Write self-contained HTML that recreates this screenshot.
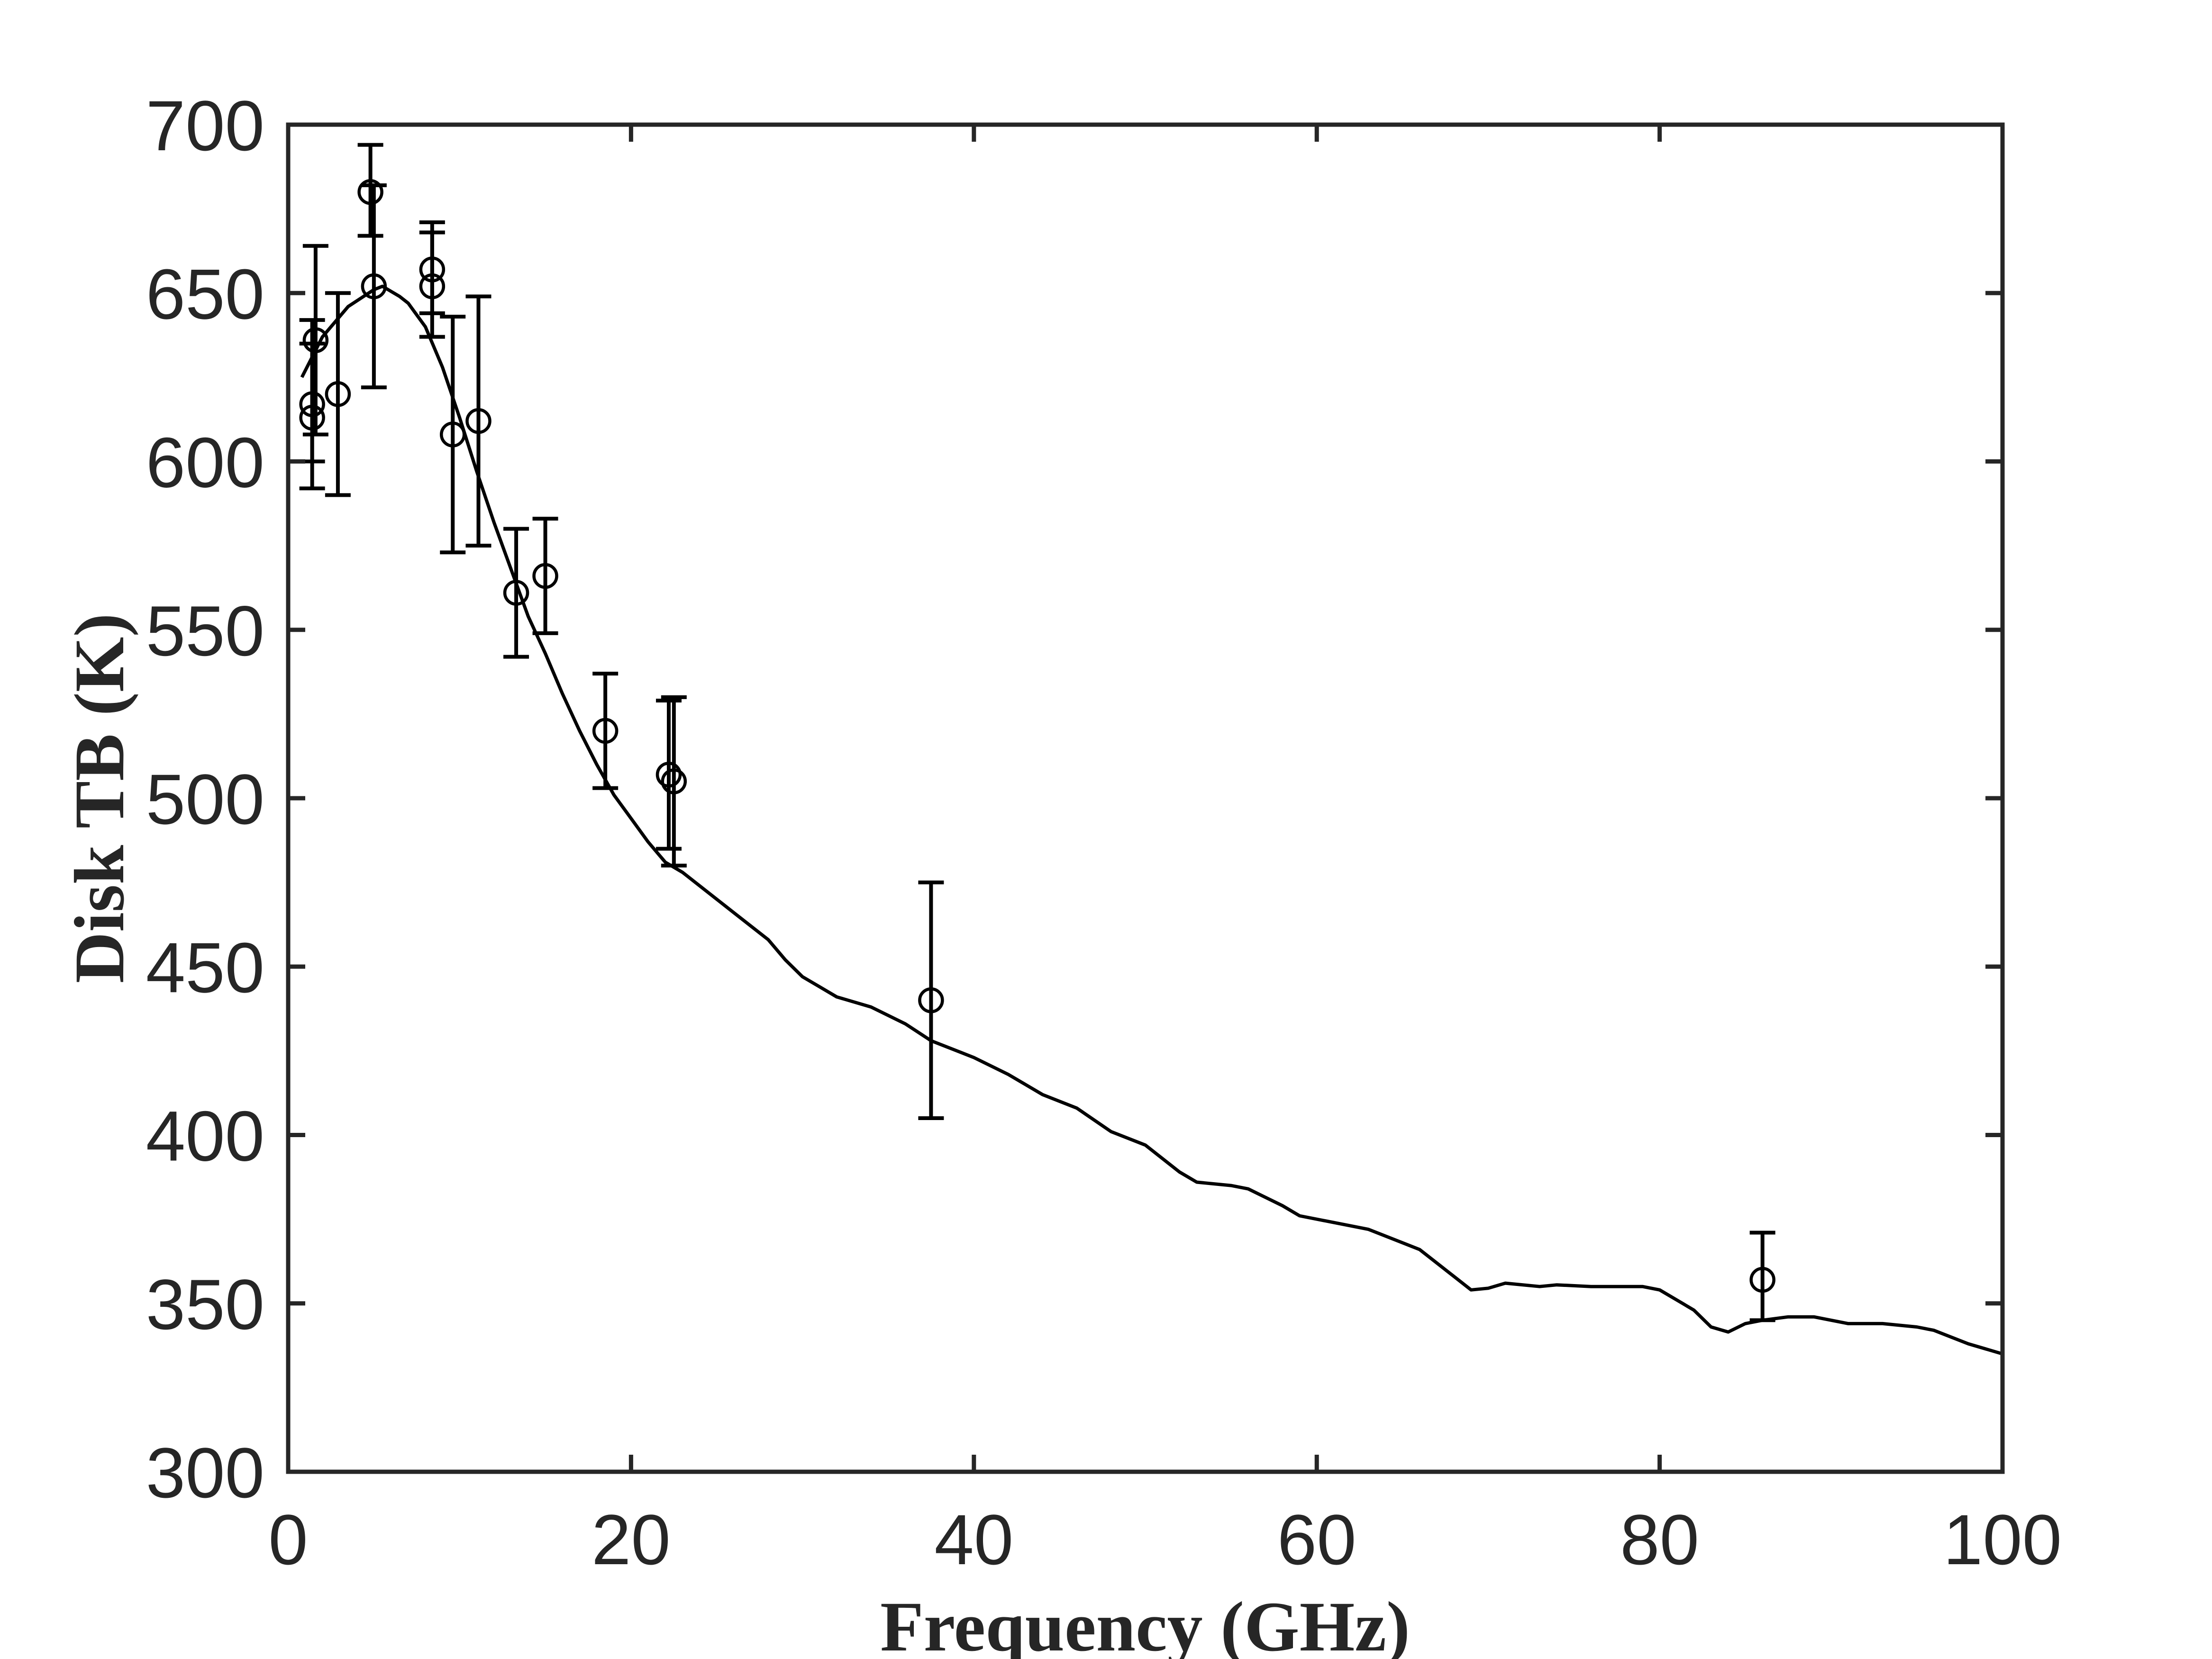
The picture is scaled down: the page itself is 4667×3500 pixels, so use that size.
<!DOCTYPE html>
<html><head><meta charset="utf-8"><style>
html,body{margin:0;padding:0;background:#fff;}
svg{display:block;}
</style></head><body>
<svg id="s" width="4667" height="3500" xmlns="http://www.w3.org/2000/svg"></svg>
<script>
var X0=608,X1=4225,Y0=263,Y1=3105;
function px(f){return X0+f*(X1-X0)/100;}
function py(t){return Y1-(t-300)*(Y1-Y0)/400;}
var s='<rect width="4667" height="3500" fill="#fff"/>';
var c=[[0.8,625],[2,637],[3.5,646],[5,651],[5.5,652],[6.5,649],[7,647],[8,640],[9,628],[10,613],[11,597],[12,582],[13,568],[14,554],[15,543],[16,531],[17,520],[18,510],[19,501],[20,494],[21,487],[22,481],[23,478],[24,474],[26,466],[28,458],[29,452],[30,447],[31,444],[32,441],[34,438],[36,433],[37.5,428],[40,423],[42,418],[43,415],[44,412],[46,408],[48,401],[50,397],[52,389],[53,386],[55,385],[56,384],[58,379],[59,376],[61,374],[63,372],[65,368],[66,366],[67,362],[68,358],[69,354],[70,354.5],[71,356],[73,355],[74,355.5],[76,355],[79,355],[80,354],[81,351],[82,348],[83,343],[84,341.5],[85,344],[86,345],[87.5,346],[89,346],[91,344],[93,344],[95,343],[96,342],[98,338],[100,335]];
s+='<polyline fill="none" stroke="#000" stroke-width="7" stroke-linejoin="round" points="'+c.map(function(p){return px(p[0]).toFixed(1)+','+py(p[1]).toFixed(1);}).join(' ')+'"/>';
var d=[[1.4,613,592,635],[1.4,617,600,642],[1.6,636,608,664],[2.9,620,590,650],[4.8,680,667,694],[5,652,622,682],[8.4,657,644,671],[8.4,652,637,668],[9.6,608,573,643],[11.1,612,575,649],[13.3,561,542,580],[15,566,549,583],[18.5,520,503,537],[22.2,507,485,529],[22.5,505,480,530],[37.5,440,405,475],[86,357,345,371]];
d.forEach(function(p){var x=px(p[0]),yl=py(p[2]),yh=py(p[3]);
s+='<line x1="'+x+'" y1="'+yl+'" x2="'+x+'" y2="'+yh+'" stroke="#000" stroke-width="8"/>';
s+='<line x1="'+(x-27)+'" y1="'+yl+'" x2="'+(x+27)+'" y2="'+yl+'" stroke="#000" stroke-width="8"/>';
s+='<line x1="'+(x-27)+'" y1="'+yh+'" x2="'+(x+27)+'" y2="'+yh+'" stroke="#000" stroke-width="8"/>';
s+='<circle cx="'+x+'" cy="'+py(p[1])+'" r="24" fill="none" stroke="#000" stroke-width="6.5"/>';});
var ax='#262626';
s+='<rect x="'+X0+'" y="'+Y0+'" width="'+(X1-X0)+'" height="'+(Y1-Y0)+'" fill="none" stroke="'+ax+'" stroke-width="9"/>';
for(var t=300;t<=700;t+=50){var y=py(t);
s+='<line x1="'+X0+'" y1="'+y+'" x2="'+(X0+36)+'" y2="'+y+'" stroke="'+ax+'" stroke-width="9"/>';
s+='<line x1="'+(X1-36)+'" y1="'+y+'" x2="'+X1+'" y2="'+y+'" stroke="'+ax+'" stroke-width="9"/>';
s+='<text x="558" y="'+(y+54)+'" text-anchor="end" font-family="Liberation Sans, sans-serif" font-size="150" fill="'+ax+'">'+t+'</text>';}
for(var f=0;f<=100;f+=20){var x=px(f);
s+='<line x1="'+x+'" y1="'+Y1+'" x2="'+x+'" y2="'+(Y1-36)+'" stroke="'+ax+'" stroke-width="9"/>';
s+='<line x1="'+x+'" y1="'+Y0+'" x2="'+x+'" y2="'+(Y0+36)+'" stroke="'+ax+'" stroke-width="9"/>';
s+='<text x="'+x+'" y="3300" text-anchor="middle" font-family="Liberation Sans, sans-serif" font-size="150" fill="'+ax+'">'+f+'</text>';}
s+='<text x="2416" y="3482" text-anchor="middle" font-family="Liberation Serif, serif" font-weight="bold" font-size="150" fill="'+ax+'">Frequency (GHz)</text>';
s+='<text transform="translate(260,1684) rotate(-90)" text-anchor="middle" font-family="Liberation Serif, serif" font-weight="bold" font-size="150" fill="'+ax+'">Disk TB (K)</text>';
document.getElementById('s').innerHTML=s;
</script>
</body></html>
